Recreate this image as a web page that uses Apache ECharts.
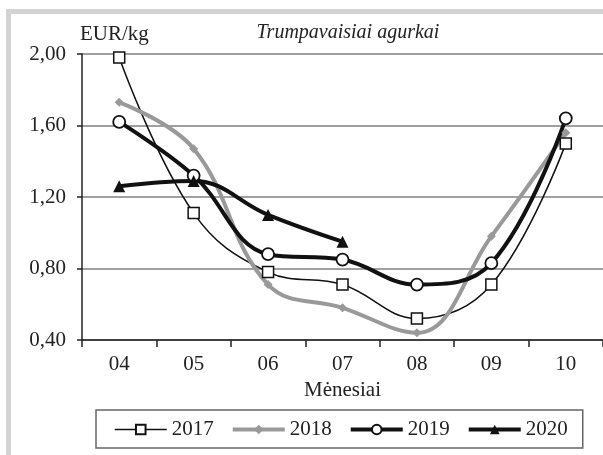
<!DOCTYPE html>
<html>
<head>
<meta charset="utf-8">
<script src="https://cdn.jsdelivr.net/npm/echarts@6/dist/echarts.min.js"></script>
<style>
html, body, #main { margin: 0; padding: 0; width: 603px; height: 455px; overflow: hidden; background: #fff; }
</style>
</head>
<body>
<div id="main"></div>
<script>
// menesiai
const months = ["04", "05", "06", "07", "08", "09", "10"];
// kainos EUR/kg
const y2017 = [1.98, 1.11, 0.78, 0.71, 0.52, 0.71, 1.50];
const y2018 = [1.73, 1.47, 0.71, 0.58, 0.44, 0.98, 1.56];
const y2019 = [1.62, 1.32, 0.88, 0.85, 0.71, 0.83, 1.64];
const y2020 = [1.26, 1.29, 1.10, 0.95];

const font = "Liberation Serif";
const myChart = echarts.init(document.getElementById("main"));

const option = {
  backgroundColor: "#fff",
  textStyle: { fontFamily: font, color: "#222" },
  title: {
    text: "Trumpavaisiai agurkai",
    left: 343,
    textAlign: "center",
    top: 18,
    textStyle: { fontFamily: font, fontStyle: "italic", fontWeight: "normal", fontSize: 20, color: "#222" },
  },
  graphic: [
    { type: "rect", shape: { x: 6, y: 9, width: 5, height: 446 }, style: { fill: "#d3d3d3" } },
    { type: "rect", shape: { x: 6, y: 9, width: 597, height: 5 }, style: { fill: "#d3d3d3" } },
    {
      type: "text", left: 80, top: 24,
      style: { text: "EUR/kg", font: "21px " + font, fill: "#222" },
    },
  ],
  legend: {
    left: 96,
    top: 410,
    padding: [9, 15, 8, 18],
    itemWidth: 52,
    itemHeight: 12,
    itemGap: 17,
    borderColor: "#666",
    borderWidth: 1.5,
    borderRadius: 0,
    lineStyle: { width: "inherit" },
    textStyle: { fontFamily: font, fontSize: 21, color: "#222" },
    data: ["2017", "2018", "2019", "2020"],
  },
  grid: { left: 82, right: -4, top: 54, bottom: 115 },
  xAxis: {
    type: "category",
    data: months,
    name: "Mėnesiai",
    nameLocation: "middle",
    nameGap: 38,
    nameTextStyle: { fontFamily: font, fontSize: 21, color: "#222" },
    axisLine: { lineStyle: { color: "#222", width: 1.5 } },
    axisTick: { show: true, length: 7, lineStyle: { color: "#222", width: 1.5 } },
    axisLabel: { margin: 14, fontFamily: font, fontSize: 21, color: "#222" },
  },
  yAxis: {
    type: "value",
    min: 0.4,
    max: 2.0,
    interval: 0.4,
    axisLine: { show: true, lineStyle: { color: "#222", width: 1.5 } },
    axisTick: { show: true, length: 5, lineStyle: { color: "#222", width: 1.5 } },
    axisLabel: {
      margin: 16,
      fontFamily: font,
      fontSize: 21,
      color: "#222",
      formatter: (v) => v.toFixed(2).replace(".", ","),
    },
    splitLine: { lineStyle: { color: "#808080", width: 1.5 } },
  },
  series: [
    {
      name: "2017",
      type: "line",
      smooth: 0.4,
      data: y2017,
      symbol: "rect",
      symbolSize: 11,
      lineStyle: { color: "#111", width: 1.5 },
      itemStyle: { color: "#fff", borderColor: "#111", borderWidth: 1.5 },
    },
    {
      name: "2018",
      type: "line",
      smooth: 0.4,
      data: y2018,
      symbol: "diamond",
      symbolSize: 9,
      lineStyle: { color: "#999", width: 4 },
      itemStyle: { color: "#999" },
    },
    {
      name: "2019",
      type: "line",
      smooth: 0.4,
      data: y2019,
      symbol: "circle",
      symbolSize: 12,
      lineStyle: { color: "#111", width: 4 },
      itemStyle: { color: "#fff", borderColor: "#111", borderWidth: 1.8 },
    },
    {
      name: "2020",
      type: "line",
      smooth: 0.4,
      data: y2020,
      symbol: "triangle",
      symbolSize: 12,
      lineStyle: { color: "#111", width: 4 },
      itemStyle: { color: "#111" },
    },
  ],
};

myChart.setOption(option);
window.onresize = myChart.resize;
</script>
</body>
</html>
